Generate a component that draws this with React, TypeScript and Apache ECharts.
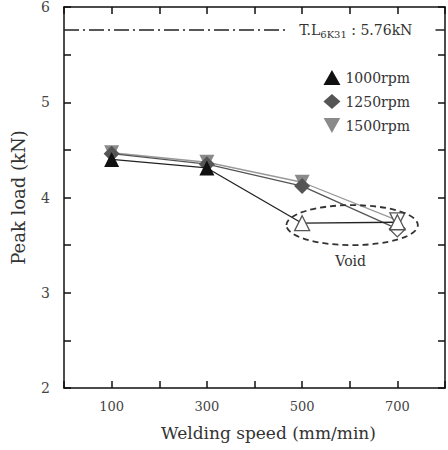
import React, { useEffect, useRef } from "react";
import * as echarts from "echarts";

const speeds = [100, 300, 500, 700];
const load1000 = [4.4, 4.31, 3.73, 3.74];
const load1250 = [4.46, 4.35, 4.12, 3.67];
const load1500 = [4.47, 4.37, 4.16, 3.76];
const voidFlags1000 = [false, false, true, true];
const voidFlags1250 = [false, false, false, true];
const voidFlags1500 = [false, false, false, true];
const xTickLabels = [100, 300, 500, 700];
const yTickLabels = [2, 3, 4, 5, 6];
const tensileLoad = 5.76;

const FONT = "DejaVu Serif";

function points(vals: number[], flags: boolean[], color: string) {
  return vals.map((v, i) =>
    flags[i]
      ? { value: [speeds[i], v], itemStyle: { color: "#ffffff", borderColor: "#555", borderWidth: 1.3 } }
      : { value: [speeds[i], v], itemStyle: { color } }
  );
}

function mkX(position: "top" | "bottom", extra: any) {
  return {
    type: "value",
    min: 0,
    max: 800,
    interval: 100,
    position,
    axisLine: { show: true, onZero: false, lineStyle: { color: "#111", width: 1.5 } },
    axisTick: { show: true, inside: true, length: 7, lineStyle: { color: "#111", width: 1.5 } },
    splitLine: { show: false },
    ...extra,
  };
}
function mkY(position: "left" | "right", extra: any) {
  return {
    type: "value",
    min: 2,
    max: 6,
    interval: 0.5,
    position,
    axisLine: { show: true, onZero: false, lineStyle: { color: "#111", width: 1.5 } },
    axisTick: { show: true, inside: true, length: 7, lineStyle: { color: "#111", width: 1.5 } },
    splitLine: { show: false },
    ...extra,
  };
}

export default function App() {
  const ref = useRef<HTMLDivElement>(null);
  useEffect(() => {
    const chart = echarts.init(ref.current!, null, { renderer: "svg" });
    chart.setOption({
      animation: false,
      textStyle: { fontFamily: FONT },
      grid: { left: 64, right: 2, top: 7, bottom: 62 },
      legend: {
        orient: "vertical",
        right: 33,
        top: 65,
        itemGap: 9,
        itemWidth: 17,
        itemHeight: 15,
        textStyle: { fontFamily: FONT, fontSize: 14, color: "#333" },
        data: [
          { name: "1000rpm", icon: "triangle" },
          { name: "1250rpm", icon: "diamond" },
          { name: "1500rpm", icon: "path://M0,0 L10,0 L5,9 Z" },
        ],
      },
      xAxis: [
        mkX("bottom", {
          name: "Welding speed (mm/min)",
          nameLocation: "middle",
          nameGap: 36,
          nameTextStyle: { fontFamily: FONT, fontSize: 17, color: "#333", padding: [0, 0, 0, 28] },
          axisLabel: {
            show: true,
            margin: 12,
            fontFamily: FONT,
            fontSize: 13,
            color: "#444",
            formatter: (v: number) => (xTickLabels.includes(v) ? String(v) : ""),
          },
        }),
        mkX("top", { axisLabel: { show: false } }),
      ],
      yAxis: [
        mkY("left", {
          name: "Peak load (kN)",
          nameLocation: "middle",
          nameGap: 37,
          nameTextStyle: { fontFamily: FONT, fontSize: 18, color: "#333" },
          axisLabel: {
            show: true,
            margin: 14,
            fontFamily: FONT,
            fontSize: 14,
            color: "#444",
            formatter: (v: number) => (yTickLabels.includes(v) ? String(v) : ""),
          },
        }),
        mkY("right", { axisLabel: { show: false } }),
      ],
      series: [
        {
          name: "1000rpm",
          type: "line",
          symbol: "triangle",
          symbolSize: 15,
          color: "#111",
          lineStyle: { color: "#222", width: 1.3 },
          data: points(load1000, voidFlags1000, "#111"),
          z: 3,
          markLine: {
            silent: true,
            symbol: "none",
            label: { show: false },
            lineStyle: { color: "#222", width: 1.5, type: [15, 4, 2, 4] },
            data: [
              [{ coord: [0, tensileLoad] }, { coord: [470, tensileLoad] }],
              [{ coord: [780, tensileLoad] }, { coord: [800, tensileLoad] }],
            ],
          },
        },
        {
          name: "1250rpm",
          type: "line",
          symbol: "diamond",
          symbolSize: 16,
          color: "#555",
          lineStyle: { color: "#555", width: 1.3 },
          data: points(load1250, voidFlags1250, "#555"),
          z: 2,
        },
        {
          name: "1500rpm",
          type: "line",
          symbol: "triangle",
          symbolRotate: 180,
          symbolSize: 15,
          color: "#8a8a8a",
          lineStyle: { color: "#999", width: 1.3 },
          data: points(load1500, voidFlags1500, "#8a8a8a"),
          z: 1,
        },
      ],
    });

    const c = chart.convertToPixel({ xAxisIndex: 0, yAxisIndex: 0 }, [605, 3.71]) as number[];
    const e = chart.convertToPixel({ xAxisIndex: 0, yAxisIndex: 0 }, [743, 3.5]) as number[];
    const tl = chart.convertToPixel({ xAxisIndex: 0, yAxisIndex: 0 }, [494, tensileLoad]) as number[];
    const vd = chart.convertToPixel({ xAxisIndex: 0, yAxisIndex: 0 }, [602, 3.33]) as number[];
    chart.setOption({
      graphic: [
        {
          type: "ellipse",
          shape: { cx: c[0], cy: c[1], rx: e[0] - c[0], ry: e[1] - c[1] },
          style: { fill: "none", stroke: "#333", lineWidth: 1.8, lineDash: [6, 4] },
          z: 10,
        },
        {
          type: "text",
          x: vd[0],
          y: vd[1],
          style: {
            text: "Void",
            fontFamily: FONT,
            fontSize: 14,
            fill: "#333",
            align: "center",
            verticalAlign: "middle",
          },
        },
        {
          type: "text",
          x: tl[0],
          y: tl[1],
          style: {
            text: "{a|T.L}{s|6K31}{a| : 5.76kN}",
            align: "left",
            verticalAlign: "middle",
            rich: {
              a: { fontFamily: FONT, fontSize: 14, fill: "#333", lineHeight: 20 },
              s: { fontFamily: FONT, fontSize: 10, fill: "#333", lineHeight: 20, padding: [9, 0, 0, 0] },
            },
          },
        },
      ],
    });
    return () => chart.dispose();
  }, []);
  return (
    <div
      ref={ref}
      style={{ position: "fixed", left: 0, top: 0, width: 448, height: 450, background: "#fff" }}
    />
  );
}
